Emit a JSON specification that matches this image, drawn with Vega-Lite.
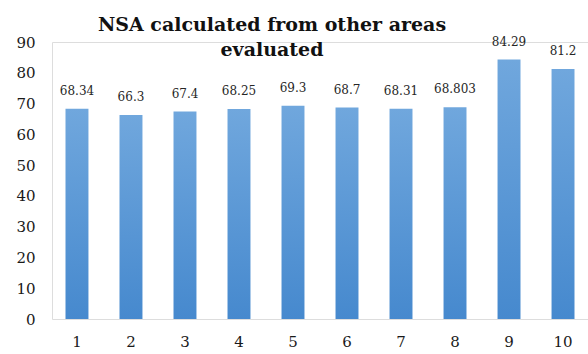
{
  "$schema": "https://vega.github.io/schema/vega-lite/v6.json",
  "width": 536,
  "height": 277,
  "autosize": {"type": "none"},
  "padding": {"left": 52, "top": 42, "right": 0, "bottom": 35},
  "background": "white",
  "config": {"font": "DejaVu Serif"},
  "title": {
    "text": ["NSA calculated from other areas", "evaluated"],
    "font": "DejaVu Serif",
    "fontSize": 19,
    "fontWeight": "bold",
    "color": "#111111",
    "lineHeight": 25,
    "anchor": "middle",
    "dx": -48,
    "offset": -25,
    "baseline": "top"
  },
  "data": {
    "values": [
      {"area": "1", "nsa": 68.34, "label": "68.34"},
      {"area": "2", "nsa": 66.3, "label": "66.3"},
      {"area": "3", "nsa": 67.4, "label": "67.4"},
      {"area": "4", "nsa": 68.25, "label": "68.25"},
      {"area": "5", "nsa": 69.3, "label": "69.3"},
      {"area": "6", "nsa": 68.7, "label": "68.7"},
      {"area": "7", "nsa": 68.31, "label": "68.31"},
      {"area": "8", "nsa": 68.803, "label": "68.803"},
      {"area": "9", "nsa": 84.29, "label": "84.29"},
      {"area": "10", "nsa": 81.2, "label": "81.2"}
    ]
  },
  "encoding": {
    "x": {
      "field": "area",
      "type": "ordinal",
      "sort": null,
      "scale": {"paddingInner": 0.575, "paddingOuter": 0.25},
      "axis": {
        "title": null,
        "labelAngle": 0,
        "domain": false,
        "ticks": false,
        "labelPadding": 15,
        "labelFont": "DejaVu Serif",
        "labelFontSize": 15,
        "labelColor": "#1a1a1a"
      }
    },
    "y": {
      "field": "nsa",
      "type": "quantitative",
      "scale": {"domain": [0, 90], "nice": false},
      "axis": {
        "title": null,
        "values": [0, 10, 20, 30, 40, 50, 60, 70, 80, 90],
        "grid": false,
        "domain": false,
        "ticks": false,
        "labelPadding": 17,
        "labelFont": "DejaVu Serif",
        "labelFontSize": 15,
        "labelColor": "#1a1a1a"
      }
    }
  },
  "layer": [
    {
      "mark": {
        "type": "bar",
        "color": {
          "gradient": "linear",
          "x1": 0, "y1": 0, "x2": 0, "y2": 1,
          "stops": [
            {"offset": 0, "color": "#70a7dd"},
            {"offset": 1, "color": "#4689ce"}
          ]
        }
      }
    },
    {
      "mark": {
        "type": "text",
        "baseline": "alphabetic",
        "dy": -14,
        "font": "DejaVu Serif",
        "fontSize": 12,
        "color": "#262626"
      },
      "encoding": {"text": {"field": "label"}}
    }
  ]
}
